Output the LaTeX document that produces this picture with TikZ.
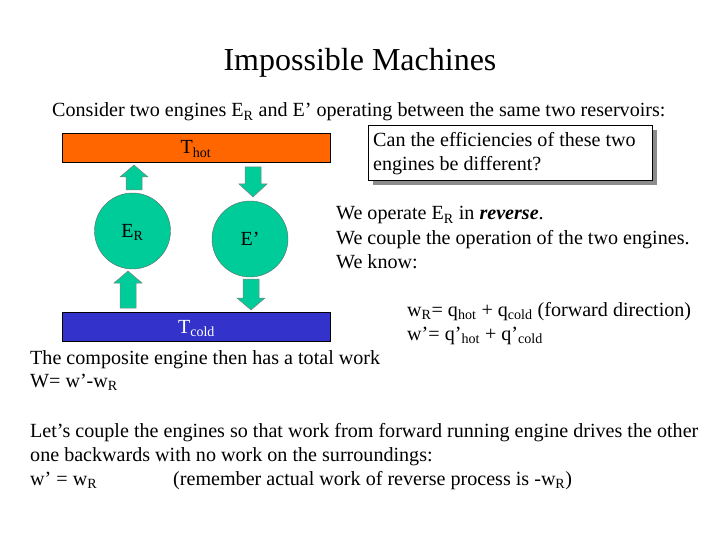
\documentclass[tikz,border=0pt]{standalone}
\usepackage{fontspec}
\setmainfont{Liberation Serif}
\usetikzlibrary{shadows}

\definecolor{hotres}{RGB}{255,102,0}
\definecolor{coldres}{RGB}{51,51,204}
\definecolor{engine}{RGB}{0,204,153}
\newcommand{\sub}[1]{\textsubscript{#1}}

\tikzset{
  txt/.style = {anchor=base west, inner sep=0pt, font=\fontsize{20.1}{24}\selectfont},
  reservoir/.style = {rectangle, draw=black, minimum width=268pt, minimum height=29pt, inner sep=0pt,
                      text height=13pt, text depth=0pt, font=\fontsize{20}{24}\selectfont},
  engnode/.style = {circle, draw=black!60, fill=engine, minimum size=76pt, inner sep=0pt,
                    text height=13pt, text depth=0pt, font=\fontsize{20}{24}\selectfont},
  engarrow/.style = {draw=black!50, fill=engine, line width=0.5pt}
}

\begin{document}
\begin{tikzpicture}[x=1pt, y=-1pt]
  \useasboundingbox (0,0) rectangle (720,540);

  \node (title) [anchor=base, inner sep=0pt, font=\fontsize{32}{38}\selectfont] at (360,71) {Impossible Machines};
  \node (intro) [txt] at (52,117) {Consider two engines E\sub{R} and E’ operating between the same two reservoirs:};

  % reservoirs
  \node (hot) [reservoir, fill=hotres] at (196,147.5) {T\sub{hot}};
  \node (cold) [reservoir, fill=coldres, text=white] at (196.5,327) {T\sub{cold}};

  % engines
  \node (ER) [engnode] at (132.5,231) {E\sub{R}};
  \node (Ep) [engnode] at (250,239) {E’};

  % block arrows: centre / tail / head base / tip
  \foreach \c/\t/\b/\p in {134/190/177/165, 253/167/184/197, 128/308/283/271, 251/279/298/310}
    \filldraw[engarrow] (\c-8,\t) -- (\c-8,\b) -- (\c-14,\b) -- (\c,\p) -- (\c+14,\b) -- (\c+8,\b) -- (\c+8,\t) -- cycle;

  % callout
  \node (ask) [rectangle, draw=black, fill=white, anchor=north west, minimum width=284pt, minimum height=55pt,
               drop shadow={shadow xshift=5pt, shadow yshift=-5pt, fill=black!45, opacity=1},
               inner sep=0pt] at (368,125) {};
  \node (ask1) [txt] at (373,147) {Can the efficiencies of these two};
  \node (ask2) [txt] at (373,171) {engines be different?};

  \node (rev1) [txt] at (336,220) {We operate E\sub{R} in \textbf{\textit{reverse}}.};
  \node (rev2) [txt] at (336,244) {We couple the operation of the two engines.};
  \node (rev3) [txt] at (336,268) {We know:};

  \node (eq1) [txt] at (407,316) {w\sub{R}= q\sub{hot} + q\sub{cold} (forward direction)};
  \node (eq2) [txt] at (407,340) {w’= q’\sub{hot} + q’\sub{cold}};

  \node (comp1) [txt] at (30,364) {The composite engine then has a total work};
  \node (comp2) [txt] at (30,387) {W= w’-w\sub{R}};

  \node (cpl1) [txt] at (30,437) {Let’s couple the engines so that work from forward running engine drives the other};
  \node (cpl2) [txt] at (30,461) {one backwards with no work on the surroundings:};
  \node (cpl3) [txt] at (30,485) {w’ = w\sub{R}};
  \node (cpl4) [txt] at (173,485) {(remember actual work of reverse process is -w\sub{R})};
\end{tikzpicture}
\end{document}
